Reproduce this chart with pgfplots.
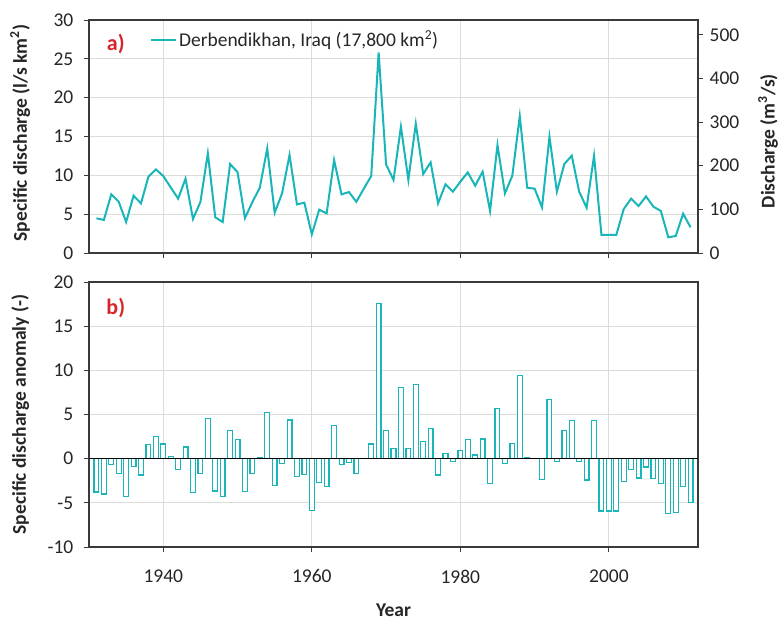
\documentclass[border=0pt]{standalone}
\usepackage{fontspec}
\setmainfont{Carlito}
\usepackage{pgfplots}
\usepackage{pgfplotstable}
\pgfplotsset{compat=1.18}
\definecolor{teal}{HTML}{19B5B9}
\definecolor{redlab}{HTML}{D7262B}
\definecolor{gridc}{HTML}{DCDCD6}
\definecolor{axisc}{HTML}{3A3A3A}
\definecolor{textc}{HTML}{262626}

% year, specific discharge (l/s km2), anomaly (-)
\pgfplotstableread{
year q anom
1931 4.47 -3.77
1932 4.25 -3.99
1933 7.55 -0.69
1934 6.60 -1.64
1935 3.99 -4.25
1936 7.38 -0.86
1937 6.39 -1.85
1938 9.82 1.58
1939 10.77 2.53
1940 9.91 1.67
1941 8.45 0.21
1942 7.00 -1.24
1943 9.57 1.33
1944 4.38 -3.86
1945 6.56 -1.68
1946 12.83 4.59
1947 4.59 -3.65
1948 3.99 -4.25
1949 11.45 3.21
1950 10.42 2.18
1951 4.50 -3.74
1952 6.56 -1.68
1953 8.41 0.17
1954 13.47 5.23
1955 5.19 -3.05
1956 7.68 -0.56
1957 12.61 4.37
1958 6.26 -1.98
1959 6.48 -1.76
1960 2.40 -5.84
1961 5.58 -2.66
1962 5.10 -3.14
1963 11.97 3.73
1964 7.55 -0.69
1965 7.85 -0.39
1966 6.60 -1.64
1967 8.28 0.04
1968 9.91 1.67
1969 25.83 17.59
1970 11.41 3.17
1971 9.40 1.16
1972 16.26 8.02
1973 9.40 1.16
1974 16.65 8.41
1975 10.17 1.93
1976 11.67 3.43
1977 6.39 -1.85
1978 8.84 0.60
1979 7.90 -0.34
1980 9.18 0.94
1981 10.38 2.14
1982 8.66 0.42
1983 10.47 2.23
1984 5.41 -2.83
1985 13.90 5.66
1986 7.68 -0.56
1987 9.95 1.71
1988 17.63 9.39
1989 8.41 0.17
1990 8.28 0.04
1991 5.88 -2.36
1992 14.97 6.73
1993 7.90 -0.34
1994 11.45 3.21
1995 12.53 4.29
1996 7.90 -0.34
1997 5.83 -2.41
1998 12.53 4.29
1999 2.32 -5.92
2000 2.32 -5.92
2001 2.32 -5.92
2002 5.66 -2.58
2003 7.00 -1.24
2004 6.05 -2.19
2005 7.29 -0.95
2006 5.96 -2.28
2007 5.41 -2.83
2008 2.02 -6.22
2009 2.19 -6.05
2010 5.06 -3.18
2011 3.30 -4.94
}\data

\pgfplotsset{
  panel/.style={
    scale only axis, width=609pt,
    xmin=1930, xmax=2012,
    xtick={1940,1960,1980,2000},
    grid=major,
    major grid style={gridc, line width=1.2pt},
    tick align=outside,
    major tick length=5pt,
    tick style={axisc, line width=1pt},
    axis line style={axisc, line width=1.2pt},
    xtick pos=bottom, ytick pos=left,
    tick label style={font=\fontsize{19.5}{22}\selectfont, text=textc},
    xticklabel style={yshift=-11pt},
    yticklabel style={xshift=-4pt},
    label style={font=\bfseries\fontsize{19.5}{22}\selectfont, text=textc},
    /pgf/number format/assume math mode=true,
    /pgf/number format/1000 sep={},
  },
}

\begin{document}
\fontsize{19.5}{22}\selectfont
\begin{tikzpicture}
\path[use as bounding box] (-89pt,-75pt) rectangle (692pt,547pt);

% a) top panel
\begin{axis}[panel,
  at={(0,294pt)}, anchor=south west, height=233pt,
  ymin=0, ymax=30, ytick={0,5,...,30},
  xticklabels={},
  ylabel={Specific discharge (l/s km\textsuperscript{2})},
  ylabel style={at={(axis description cs:-0.113,0.515)}, anchor=center},
  legend style={at={(0.095,0.914)}, anchor=west, draw=none, fill=none,
    font=\fontsize{19.5}{22}\selectfont, text=textc},
  legend image code/.code={\draw[#1] (0pt,0pt) -- (25pt,0pt);},
]
\addplot[teal, line width=2pt] table[x=year, y=q] {\data};
\addlegendentry{Derbendikhan, Iraq (17,800 km\textsuperscript{2})}
\node[font=\bfseries\fontsize{22}{26}\selectfont, text=redlab] at (rel axis cs:0.044,0.897) {a)};
\end{axis}

% discharge scale on the right
\begin{axis}[panel,
  at={(0,294pt)}, anchor=south west, height=233pt,
  ymin=0, ymax=534, ytick={0,100,...,500},
  axis y line*=right, ytick pos=right, hide x axis, grid=none,
  yticklabel style={xshift=4pt},
  ylabel={Discharge (m\textsuperscript{3}/s)},
  ylabel style={at={(axis description cs:1.115,0.48)}, anchor=center},
]
\addplot[draw=none] coordinates {(1930,0)};
\end{axis}

% b) bottom panel
\begin{axis}[panel,
  at={(0,0)}, anchor=south west, height=265pt,
  ymin=-10, ymax=20, ytick={-10,-5,...,20},
  xlabel={Year},
  xlabel style={at={(axis description cs:0.5,-0.237)}, anchor=center},
  ylabel={Specific discharge anomaly (-)},
  ylabel style={at={(axis description cs:-0.113,0.5)}, anchor=center},
]
\addplot[ybar, bar width=0.65, draw=teal, fill=white, line width=1.2pt] table[x=year, y=anom] {\data};
\addplot[black, line width=1.3pt, forget plot] coordinates {(1930,0) (2012,0)};
\node[font=\bfseries\fontsize{22}{26}\selectfont, text=redlab] at (rel axis cs:0.044,0.902) {b)};
\end{axis}
\end{tikzpicture}
\end{document}
